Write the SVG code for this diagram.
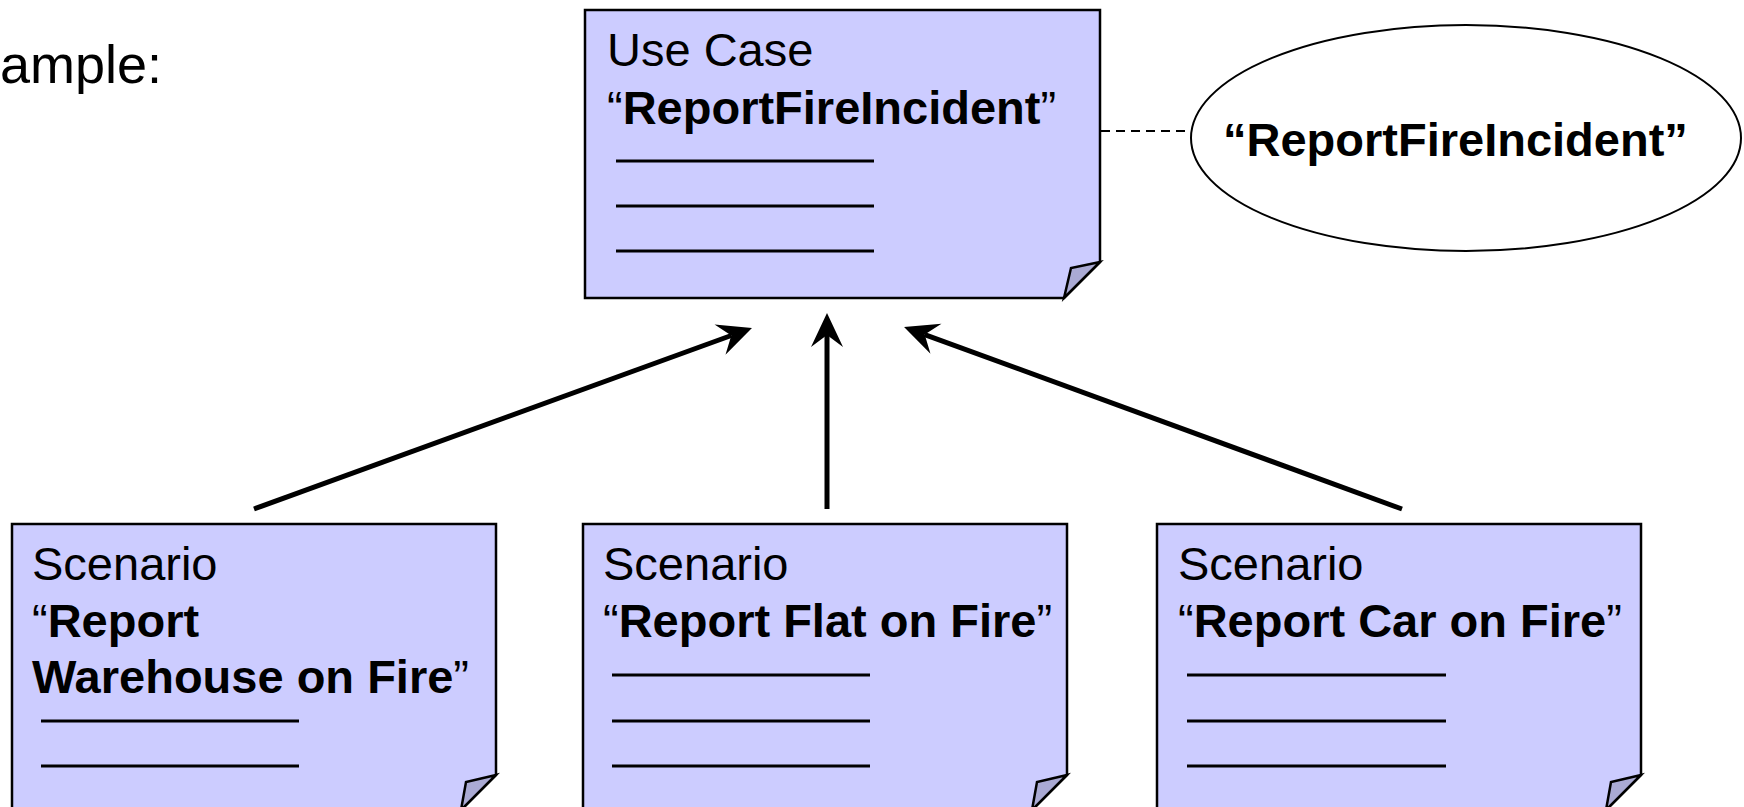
<svg xmlns="http://www.w3.org/2000/svg" width="1744" height="807" viewBox="0 0 1744 807">
<style>
  text { font-family: "Liberation Sans", Arial, sans-serif; font-size: 47px; fill: #000; }
  .b { font-weight: bold; }
  .note { fill: #ccccff; stroke: #000; stroke-width: 2.5; stroke-linejoin: miter; }
  .flap { fill: #aaaad4; stroke: #000; stroke-width: 2.5; stroke-linejoin: miter; }
  .rule { stroke: #000; stroke-width: 3; }
  .conn { stroke: #000; stroke-width: 5; fill: none; }
</style>
<defs>
  <marker id="arrow" markerUnits="userSpaceOnUse" viewBox="-14 -18 40 36" markerWidth="40" markerHeight="36" refX="0" refY="0" orient="auto" overflow="visible">
    <path d="M22,0 L-12,-16 L0,0 L-12,16 Z" fill="#000"/>
  </marker>
</defs>
<rect width="1744" height="807" fill="#fff"/>

<text id="title" x="0" y="83" style="font-size:54px">ample:</text>

<g id="usecase-note">
  <path class="note" d="M585,10 H1100 V262 L1064,298 H585 Z"/>
  <path class="flap" d="M1100,262 L1071,268 L1064,298 Z"/>
  <text x="607" y="66">Use Case</text>
  <text x="607" y="124">“<tspan class="b">ReportFireIncident</tspan>”</text>
  <line class="rule" x1="616" y1="161" x2="874" y2="161"/>
  <line class="rule" x1="616" y1="206" x2="874" y2="206"/>
  <line class="rule" x1="616" y1="251" x2="874" y2="251"/>
</g>

<g id="usecase-ellipse">
  <ellipse cx="1466" cy="138" rx="275" ry="113" fill="#fff" stroke="#000" stroke-width="2"/>
  <text class="b" x="1223" y="156">“ReportFireIncident”</text>
</g>

<g id="scenario-warehouse">
  <path class="note" d="M12,524 H496 V775 L461,810 H12 Z"/>
  <path class="flap" d="M496,775 L466,782 L461,810 Z"/>
  <text x="32" y="580">Scenario</text>
  <text x="32" y="637">“<tspan class="b">Report</tspan></text>
  <text x="32" y="693"><tspan class="b">Warehouse on Fire</tspan>”</text>
  <line class="rule" x1="41" y1="721" x2="299" y2="721"/>
  <line class="rule" x1="41" y1="766" x2="299" y2="766"/>
</g>

<g id="scenario-flat">
  <path class="note" d="M583,524 H1067 V775 L1032,810 H583 Z"/>
  <path class="flap" d="M1067,775 L1037,782 L1032,810 Z"/>
  <text x="603" y="580">Scenario</text>
  <text x="603" y="637">“<tspan class="b">Report Flat on Fire</tspan>”</text>
  <line class="rule" x1="612" y1="675" x2="870" y2="675"/>
  <line class="rule" x1="612" y1="721" x2="870" y2="721"/>
  <line class="rule" x1="612" y1="766" x2="870" y2="766"/>
</g>

<g id="scenario-car">
  <path class="note" d="M1157,524 H1641 V775 L1606,810 H1157 Z"/>
  <path class="flap" d="M1641,775 L1611,782 L1606,810 Z"/>
  <text x="1178" y="580">Scenario</text>
  <text x="1178" y="637">“<tspan class="b">Report Car on Fire</tspan>”</text>
  <line class="rule" x1="1187" y1="675" x2="1446" y2="675"/>
  <line class="rule" x1="1187" y1="721" x2="1446" y2="721"/>
  <line class="rule" x1="1187" y1="766" x2="1446" y2="766"/>
</g>

<g id="connectors">
  <line x1="1101" y1="131" x2="1190" y2="131" stroke="#000" stroke-width="2" stroke-dasharray="9,6"/>
  <line class="conn" x1="254" y1="509" x2="731.3" y2="335.5" marker-end="url(#arrow)"/>
  <line class="conn" x1="827" y1="509" x2="827" y2="335" marker-end="url(#arrow)"/>
  <line class="conn" x1="1402" y1="509" x2="924.7" y2="334.6" marker-end="url(#arrow)"/>
</g>
</svg>
